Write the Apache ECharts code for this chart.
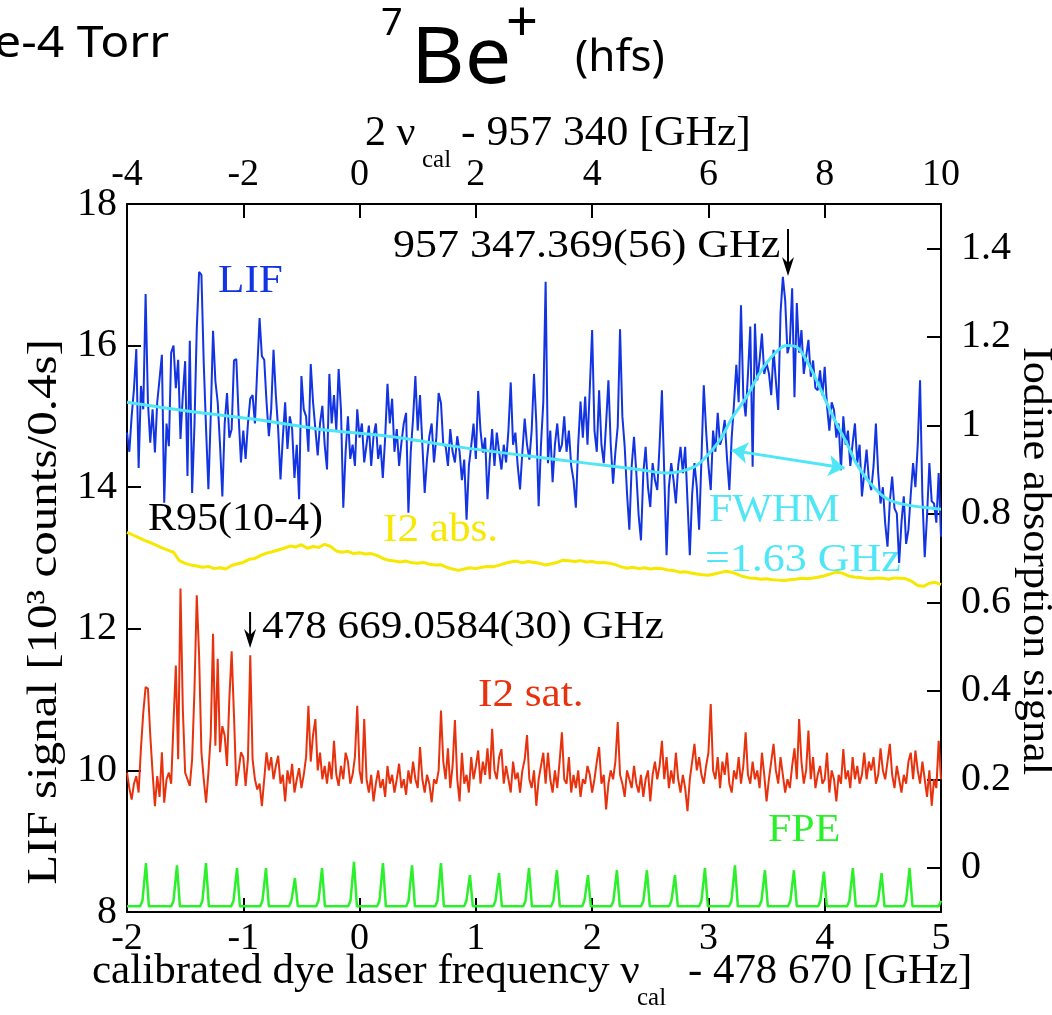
<!DOCTYPE html>
<html>
<head>
<meta charset="utf-8">
<title>7Be+ hfs</title>
<script src="https://cdn.jsdelivr.net/npm/echarts@6.0.0/dist/echarts.min.js"></script>
<style>
    html, body { margin: 0; padding: 0; background: #fff; }
    #chart { width: 1052px; height: 1015px; }
</style>
</head>
<body>
<div id="chart"></div>
<script>
    // x grid for LIF and I2 sat. (GHz, nu_cal - 478 670)
    var xStart = -2;
    var lifStep = 0.02;
    var absStep = 0.05;

    // LIF counts (10^3 / 0.4 s), left axis
    var lifValues = [
        14.77,14.5,15.0,15.39,15.95,14.27,15.43,15.1,16.73,15.2,
        14.63,15.1,14.49,15.2,15.53,15.87,13.78,14.9,14.58,15.9,
        16.0,15.4,15.8,14.68,15.3,15.78,14.16,16.07,13.92,14.87,
        16.24,17.04,17.0,15.75,14.82,13.97,15.0,16.21,15.5,15.2,
        14.6,13.87,14.9,15.33,14.7,14.82,15.79,15.81,15.0,14.35,
        14.8,14.4,14.9,15.25,15.3,14.9,15.67,16.39,15.85,15.8,
        15.2,14.72,15.1,15.94,15.3,14.82,14.11,14.7,15.2,14.54,
        15.0,14.82,14.13,14.6,13.83,15.57,15.1,15.0,14.5,15.74,
        15.2,14.82,14.45,14.9,15.15,14.6,14.25,15.6,14.9,15.3,
        14.8,15.67,15.1,13.71,14.5,15.0,14.4,14.6,14.3,15.1,
        14.7,14.9,14.35,14.6,14.87,14.3,14.72,14.9,14.4,14.6,
        14.13,14.7,15.46,14.9,15.25,14.5,14.82,14.3,14.63,14.9,
        15.05,13.64,14.5,14.97,15.57,14.8,15.3,14.6,13.92,14.4,
        14.72,14.9,14.35,14.7,15.33,15.19,14.6,14.58,14.3,14.82,
        14.5,14.35,14.72,14.5,14.1,14.39,13.54,14.3,14.58,14.9,
        14.4,15.36,14.8,14.49,14.7,13.83,14.4,14.82,14.3,14.77,
        14.5,14.25,14.6,14.35,14.8,15.48,14.6,14.77,14.3,13.97,
        14.5,14.97,14.6,14.39,14.8,15.6,14.9,13.73,14.6,15.2,
        16.9,14.34,14.8,14.07,14.6,14.9,14.5,14.6,15.0,14.5,
        14.8,14.3,14.1,13.71,14.6,15.21,14.7,15.28,14.6,15.4,
        16.22,14.8,14.5,15.37,14.6,14.34,14.9,15.51,14.6,14.05,
        14.5,14.86,16.23,15.0,14.57,13.91,13.4,14.3,14.71,14.2,
        13.6,13.25,14.2,14.57,14.0,13.72,14.34,14.1,13.96,14.6,
        15.37,14.2,13.04,14.0,14.34,14.1,13.77,14.3,14.57,14.2,
        14.57,13.8,13.04,13.9,14.34,14.0,13.4,14.4,15.44,14.8,
        14.3,13.96,14.8,14.5,15.05,14.6,14.71,14.95,14.4,13.96,
        14.7,15.18,15.73,15.2,16.57,15.28,15.0,15.6,16.27,14.29,
        16.31,15.51,15.8,16.17,15.6,15.75,15.61,15.3,15.94,15.5,
        15.09,16.46,16.97,16.64,15.89,16.03,16.81,15.27,16.6,15.9,
        16.22,15.6,15.84,16.08,15.56,15.79,15.4,15.37,15.65,15.3,
        15.7,15.14,14.8,15.2,15.09,14.7,14.9,14.24,15.0,14.6,
        14.8,14.3,14.62,14.9,14.34,14.6,13.87,14.2,14.53,14.1,
        13.96,14.3,14.9,14.2,13.77,14.0,13.49,13.16,13.8,14.15,
        13.7,13.63,12.93,13.5,13.87,13.2,13.4,13.9,14.34,14.0,
        14.6,15.51,13.87,13.01,13.6,14.34,13.8,13.77,13.5,14.2,
        13.3
    ];

    // fitted curve (x, counts)
    var fitX = [-2, -1.5, -0.9, -0.35, 0.25, 0.8, 1.4, 1.95, 2.4, 2.64, 2.87, 2.98, 3.1, 3.2, 3.33, 3.44, 3.56, 3.67, 3.76, 3.84, 3.93, 4.02, 4.1, 4.19, 4.27, 4.39, 4.53, 4.7, 5.0];
    var fitY = [15.2, 15.08, 14.96, 14.82, 14.72, 14.58, 14.45, 14.34, 14.25, 14.2, 14.28, 14.43, 14.67, 14.97, 15.28, 15.61, 15.87, 16.0, 15.98, 15.8, 15.51, 15.18, 14.9, 14.62, 14.34, 14.06, 13.84, 13.75, 13.69];

    // FWHM arrow ends (x, counts)
    var fwhmFrom = [3.2, 14.52];
    var fwhmTo = [4.17, 14.27];

    // marked lines (bottom-axis GHz): LIF centre 957 347.369 / 2, I2 line 478 669.0584
    var lifCentreX = (957347.369 - 957340) / 2;
    var i2LineX = 478669.0584 - 478670;

    // I2 absorption, right axis, step 0.05
    var absValues = [
        0.758,0.752,0.746,0.740,0.735,0.729,0.723,0.718,0.713,0.694,
        0.688,0.684,0.682,0.679,0.681,0.676,0.678,0.675,0.683,0.687,
        0.690,0.697,0.699,0.706,0.711,0.714,0.718,0.722,0.727,0.725,
        0.730,0.722,0.726,0.724,0.731,0.726,0.716,0.713,0.715,0.710,
        0.712,0.709,0.710,0.706,0.699,0.695,0.693,0.691,0.693,0.689,
        0.688,0.690,0.686,0.684,0.685,0.679,0.675,0.672,0.675,0.678,
        0.676,0.679,0.681,0.680,0.684,0.688,0.691,0.693,0.689,0.692,
        0.690,0.688,0.684,0.687,0.690,0.695,0.694,0.692,0.694,0.691,
        0.692,0.689,0.690,0.688,0.685,0.680,0.677,0.679,0.676,0.678,
        0.675,0.677,0.676,0.673,0.672,0.668,0.669,0.666,0.664,0.662,
        0.661,0.664,0.667,0.670,0.668,0.663,0.658,0.655,0.654,0.652,
        0.653,0.651,0.650,0.649,0.651,0.652,0.654,0.653,0.655,0.657,
        0.660,0.664,0.668,0.666,0.660,0.657,0.656,0.654,0.653,0.655,
        0.654,0.652,0.655,0.654,0.653,0.647,0.638,0.636,0.643,0.645,
        0.640
    ];

    // I2 saturation, right axis, step 0.02
    var satValues = [
        0.215,0.18,0.154,0.19,0.207,0.17,0.27,0.351,0.408,0.405,
        0.3,0.215,0.139,0.207,0.16,0.261,0.147,0.2,0.215,0.19,
        0.329,0.457,0.245,0.631,0.359,0.215,0.2,0.185,0.245,0.4,
        0.616,0.48,0.261,0.2,0.147,0.215,0.3,0.529,0.276,0.472,
        0.261,0.32,0.299,0.23,0.381,0.489,0.344,0.185,0.22,0.261,
        0.25,0.185,0.245,0.48,0.245,0.2,0.177,0.19,0.139,0.2,
        0.261,0.22,0.25,0.2,0.23,0.253,0.19,0.21,0.15,0.22,
        0.19,0.235,0.17,0.2,0.225,0.18,0.21,0.25,0.366,0.24,
        0.3,0.336,0.22,0.26,0.2,0.23,0.19,0.24,0.2,0.287,
        0.21,0.185,0.23,0.2,0.26,0.24,0.19,0.21,0.25,0.366,
        0.22,0.19,0.336,0.2,0.17,0.21,0.15,0.19,0.22,0.18,
        0.2,0.16,0.23,0.19,0.21,0.17,0.2,0.235,0.18,0.2,
        0.165,0.22,0.19,0.24,0.2,0.18,0.273,0.2,0.17,0.21,
        0.19,0.148,0.2,0.19,0.22,0.355,0.24,0.2,0.27,0.18,
        0.23,0.334,0.2,0.15,0.26,0.19,0.21,0.17,0.25,0.2,
        0.23,0.265,0.19,0.24,0.21,0.27,0.2,0.314,0.22,0.2,
        0.25,0.268,0.19,0.23,0.2,0.17,0.24,0.2,0.215,0.17,
        0.22,0.245,0.3,0.2,0.18,0.22,0.14,0.2,0.23,0.26,
        0.19,0.26,0.2,0.17,0.22,0.18,0.24,0.306,0.2,0.19,
        0.25,0.17,0.21,0.18,0.22,0.16,0.2,0.19,0.23,0.21,
        0.17,0.2,0.24,0.273,0.19,0.21,0.132,0.19,0.22,0.2,
        0.24,0.329,0.21,0.19,0.16,0.22,0.2,0.18,0.23,0.19,
        0.17,0.21,0.16,0.2,0.22,0.15,0.21,0.24,0.2,0.23,
        0.287,0.2,0.25,0.18,0.22,0.19,0.26,0.2,0.17,0.21,
        0.18,0.128,0.2,0.24,0.28,0.22,0.25,0.21,0.19,0.23,
        0.26,0.37,0.22,0.2,0.25,0.18,0.24,0.21,0.26,0.19,
        0.17,0.22,0.2,0.25,0.19,0.23,0.306,0.21,0.19,0.24,
        0.2,0.22,0.18,0.26,0.21,0.15,0.2,0.24,0.28,0.22,
        0.19,0.25,0.21,0.17,0.2,0.18,0.23,0.27,0.2,0.336,
        0.24,0.19,0.22,0.31,0.2,0.25,0.18,0.21,0.23,0.19,
        0.2,0.26,0.17,0.22,0.2,0.15,0.21,0.19,0.268,0.2,
        0.22,0.18,0.25,0.2,0.23,0.19,0.21,0.26,0.2,0.24,
        0.22,0.25,0.19,0.21,0.27,0.22,0.2,0.24,0.28,0.21,
        0.18,0.23,0.2,0.17,0.21,0.19,0.24,0.26,0.2,0.265,
        0.22,0.19,0.24,0.2,0.16,0.22,0.14,0.2,0.18,0.287,
        0.2
    ];

    // FPE fringes: peak positions / heights (left axis), baseline
    var fpePeakX = [-1.837,-1.570,-1.321,-1.054,-0.805,-0.556,-0.323,-0.048,0.201,0.451,0.700,0.949,1.199,1.457,1.697,1.964,2.213,2.471,2.712,2.970,3.228,3.486,3.735,3.993,4.242,4.489,4.730];
    var fpePeakTop = [8.69,8.66,8.69,8.62,8.62,8.48,8.62,8.71,8.69,8.66,8.69,8.52,8.55,8.62,8.59,8.52,8.59,8.59,8.52,8.62,8.66,8.59,8.59,8.57,8.62,8.55,8.62];
    var fpeBase = 8.08;

    // axis ticks
    var bottomTicks = { min: -2, max: 5, step: 1 };
    var topTicks = { min: -4, max: 10, step: 2 };
    var leftTicks = { min: 8, max: 18, step: 2 };
    var rightRange = { min: -0.1, max: 1.5 };
    var rightTickValues = [0, 0.2, 0.4, 0.6, 0.8, 1, 1.2, 1.4];

    var BLUE = '#1234e2', CYAN = '#4fe6f6', YELLOW = '#f6e800', RED = '#e8320e', GREEN = '#2cf02c';
    var SERIF = '"Liberation Serif", "Times New Roman", serif';
    var SANS = '"Noto Sans", Lato, sans-serif';

    function toPairs(values, step) {
        return values.map(function (v, i) {
            return [+(xStart + i * step).toFixed(3), v];
        });
    }

    var fitPts = fitX.map(function (x, i) { return [x, fitY[i]]; });

    var fpePts = [[xStart, fpeBase]];
    fpePeakX.forEach(function (x, i) {
        fpePts.push([x - 0.05, fpeBase]);
        fpePts.push([x - 0.03, fpeBase + 0.08]);
        fpePts.push([x, fpePeakTop[i]]);
        fpePts.push([x + 0.025, fpeBase]);
    });
    fpePts.push([4.98, fpeBase]);
    fpePts.push([5, fpeBase + 0.08]);

    function axisCommon(fontSize, margin) {
        return {
            axisLine: { show: true, onZero: false, lineStyle: { color: '#000', width: 2 } },
            axisTick: { show: true, inside: true, length: 14, lineStyle: { color: '#000', width: 2 } },
            axisLabel: { color: '#000', fontFamily: SERIF, fontSize: fontSize, margin: margin },
            splitLine: { show: false }
        };
    }

    function txt(x, y, s, color, size, family, extra) {
        var el = {
            type: 'text', x: x, y: y, silent: true,
            style: {
                text: s, fill: color, font: size + 'px ' + family,
                align: 'left', verticalAlign: 'middle',
                textAlign: 'left', textVerticalAlign: 'middle'
            }
        };
        if (extra) {
            for (var k in extra) {
                if (k === 'align') {
                    el.style.align = extra[k];
                    el.style.textAlign = extra[k];
                } else {
                    el[k] = extra[k];
                }
            }
        }
        return el;
    }

    // down arrow like the ones in the figure
    function downArrow(px, top, tip) {
        return {
            type: 'group', silent: true,
            children: [
                { type: 'line', shape: { x1: px, y1: top, x2: px, y2: tip - 8 }, style: { stroke: '#000', lineWidth: 2 } },
                { type: 'polygon', shape: { points: [[px - 6, tip - 19], [px, tip], [px + 6, tip - 19], [px, tip - 13]] }, style: { fill: '#000' } }
            ]
        };
    }

    var bottomAxis = Object.assign(axisCommon(38, 8), {
        type: 'value', position: 'bottom',
        min: bottomTicks.min, max: bottomTicks.max, interval: bottomTicks.step
    });
    var topAxis = Object.assign(axisCommon(38, 10), {
        type: 'value', position: 'top',
        min: topTicks.min, max: topTicks.max, interval: topTicks.step
    });
    var leftAxis = Object.assign(axisCommon(40, 10), {
        type: 'value', position: 'left',
        min: leftTicks.min, max: leftTicks.max, interval: leftTicks.step
    });
    var rightAxis = Object.assign(axisCommon(40, 20), {
        type: 'value', position: 'right',
        min: rightRange.min, max: rightRange.max
    });
    rightAxis.axisTick.customValues = rightTickValues;
    rightAxis.axisLabel.customValues = rightTickValues;

    var myChart = echarts.init(document.getElementById('chart'));
    myChart.setOption({
        animation: false,
        backgroundColor: '#fff',
        grid: { left: 127, right: 111, top: 204, bottom: 103 },
        xAxis: [bottomAxis, topAxis],
        yAxis: [leftAxis, rightAxis],
        series: [
            {
                name: 'LIF', type: 'line', xAxisIndex: 0, yAxisIndex: 0,
                data: toPairs(lifValues, lifStep), showSymbol: false, z: 2,
                lineStyle: { color: BLUE, width: 2 }
            },
            {
                name: 'fit', type: 'line', xAxisIndex: 0, yAxisIndex: 0,
                data: fitPts, showSymbol: false, smooth: 0.3, z: 3,
                lineStyle: { color: CYAN, width: 3 },
                markLine: {
                    silent: true, symbol: ['arrow', 'arrow'], symbolSize: 16,
                    label: { show: false },
                    lineStyle: { color: CYAN, width: 3, type: 'solid' },
                    data: [[{ coord: fwhmFrom }, { coord: fwhmTo }]]
                }
            },
            {
                name: 'I2 abs.', type: 'line', xAxisIndex: 0, yAxisIndex: 1,
                data: toPairs(absValues, absStep), showSymbol: false, z: 2,
                lineStyle: { color: YELLOW, width: 3 }
            },
            {
                name: 'I2 sat.', type: 'line', xAxisIndex: 0, yAxisIndex: 1,
                data: toPairs(satValues, lifStep), showSymbol: false, z: 2,
                lineStyle: { color: RED, width: 2 }
            },
            {
                name: 'FPE', type: 'line', xAxisIndex: 0, yAxisIndex: 0,
                data: fpePts, showSymbol: false, z: 2,
                lineStyle: { color: GREEN, width: 2.5 }
            }
        ]
    });

    // arrows sit on the marked frequencies
    var lifArrowPx = myChart.convertToPixel({ xAxisIndex: 0 }, lifCentreX);
    var i2ArrowPx = myChart.convertToPixel({ xAxisIndex: 0 }, i2LineX);
    var wide = 1.08;

    myChart.setOption({
        graphic: [
            // header
            txt(-6, 45, 'e-4 Torr', '#000', 43, SANS, { scaleX: 1.12 }),
            txt(381, 24, '7', '#000', 38, SANS),
            txt(411, 61, 'Be', '#000', 78, SANS, { scaleX: 1.06 }),
            txt(506, 25, '+', '#000', 56, SANS),
            txt(575, 58, '(hfs)', '#000', 44, SANS),
            // top axis title
            txt(365, 134, '2 \u03bd', '#000', 42, SERIF),
            txt(422, 160, 'cal', '#000', 25, SERIF),
            txt(461, 134, '- 957 340 [GHz]', '#000', 42, SERIF, { scaleX: 1.04 }),
            // bottom axis title
            txt(92, 972, 'calibrated dye laser frequency \u03bd', '#000', 42, SERIF, { scaleX: 1.025 }),
            txt(637, 998, 'cal', '#000', 25, SERIF),
            txt(688, 972, '- 478 670 [GHz]', '#000', 42, SERIF, { scaleX: 1.02 }),
            // side titles
            txt(45, 612, 'LIF signal [10\u00b3 counts/0.4s]', '#000', 43, SERIF, { align: 'center', rotation: Math.PI / 2, scaleX: 1.14 }),
            txt(1035, 561, 'Iodine absorption signal', '#000', 43, SERIF, { align: 'center', rotation: -Math.PI / 2, scaleX: 1.03 }),
            // labels in the plot
            txt(218, 281, 'LIF', BLUE, 40, SERIF, { scaleX: wide }),
            txt(393, 246, '957 347.369(56) GHz', '#000', 40, SERIF, { scaleX: 1.1 }),
            downArrow(lifArrowPx, 229, 276),
            txt(148, 519, 'R95(10-4)', '#000', 40, SERIF, { scaleX: 1.05 }),
            txt(383, 530, 'I2 abs.', YELLOW, 40, SERIF, { scaleX: wide }),
            downArrow(i2ArrowPx, 612, 648),
            txt(262, 627, '478 669.0584(30) GHz', '#000', 40, SERIF, { scaleX: wide }),
            txt(478, 695, 'I2 sat.', RED, 40, SERIF, { scaleX: wide }),
            txt(768, 830, 'FPE', GREEN, 40, SERIF, { scaleX: 1.05 }),
            txt(709, 510, 'FWHM', CYAN, 40, SERIF, { scaleX: 1.05 }),
            txt(705, 560, '=1.63 GHz', CYAN, 40, SERIF, { scaleX: 1.1 })
        ]
    });
</script>
</body>
</html>
